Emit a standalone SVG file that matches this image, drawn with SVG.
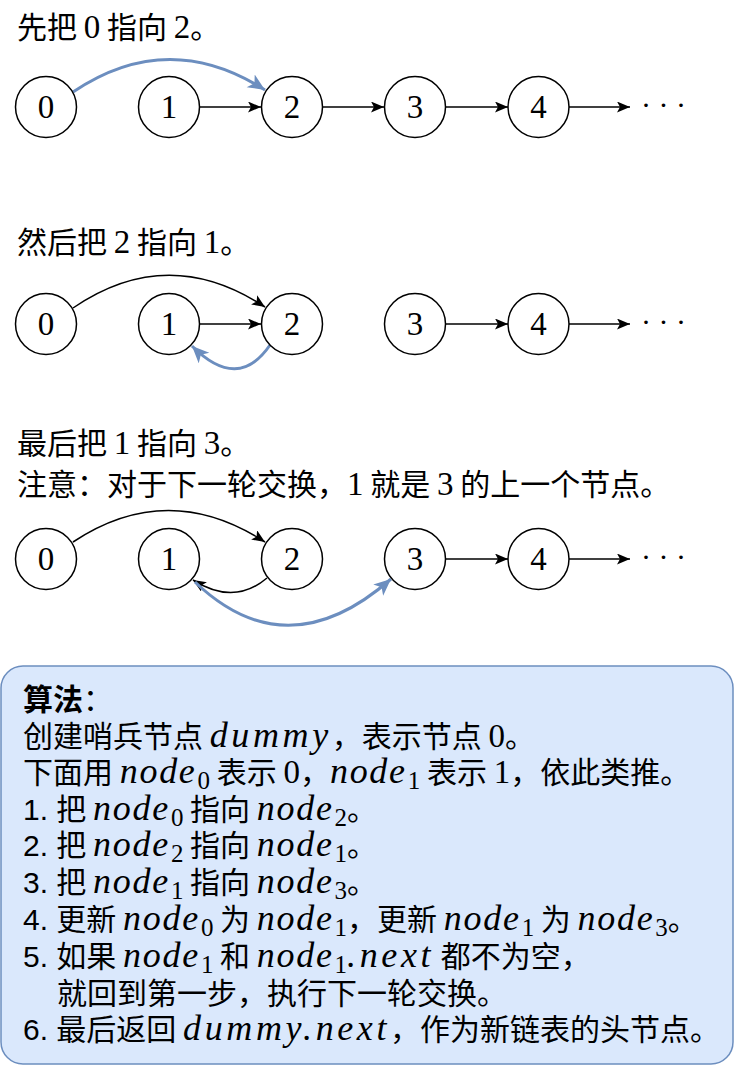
<svg xmlns="http://www.w3.org/2000/svg" width="741" height="1067" viewBox="0 0 741 1067">
<style>
text{font-family:"Noto Sans CJK SC","Noto Sans",sans-serif;font-size:30px;fill:#000}
.d{font-family:"Liberation Serif",serif;font-size:33px}
.m{font-family:"Liberation Serif",serif;font-size:36px;font-style:italic;letter-spacing:1.7px}
.w{letter-spacing:3.6px}
.sub{font-family:"Liberation Serif",serif;font-size:25px}
.s{font-family:"Liberation Sans",sans-serif}
.lbl{font-family:"Liberation Serif",serif;font-size:33px;text-anchor:middle}
.dots{font-family:"Liberation Serif",serif;font-size:30px;letter-spacing:7.5px}
.node circle{fill:#fff;stroke:#000;stroke-width:1.5}
.e{fill:none;stroke:#000;stroke-width:1.5}
.eb{fill:none;stroke:#6c8ebf;stroke-width:3}
</style>
<defs>
<marker id="ak" markerUnits="userSpaceOnUse" markerWidth="14" markerHeight="12" refX="13" refY="5.5" orient="auto"><path d="M0,0 L13,5.5 L0,11 L3,5.5 Z" fill="#000"/></marker>
<marker id="ab" markerUnits="userSpaceOnUse" markerWidth="18" markerHeight="16" refX="17" refY="7.5" orient="auto"><path d="M0,0 L17,7.5 L0,15 L4.5,7.5 Z" fill="#6c8ebf"/></marker>
</defs>
<rect x="0" y="0" width="741" height="1067" fill="#fff"/>

<g id="titles">
<text x="17" y="38">先把 <tspan class="d">0</tspan> 指向 <tspan class="d">2</tspan>。</text>
<text x="17" y="253">然后把 <tspan class="d">2</tspan> 指向 <tspan class="d">1</tspan>。</text>
<text x="17" y="454">最后把 <tspan class="d">1</tspan> 指向 <tspan class="d">3</tspan>。</text>
<text x="17" y="495">注意：对于下一轮交换，<tspan class="d">1</tspan> 就是 <tspan class="d">3</tspan> 的上一个节点。</text>
</g>

<g id="connectors">
<path class="eb" d="M73 92 Q168 28 265 90" marker-end="url(#ab)"/>
<path class="e" d="M199.5 107 H261" marker-end="url(#ak)"/>
<path class="e" d="M322.5 107 H384" marker-end="url(#ak)"/>
<path class="e" d="M445.5 107 H508" marker-end="url(#ak)"/>
<path class="e" d="M569 107 H630" marker-end="url(#ak)"/>

<path class="e" d="M73 308 Q168 243 265 307" marker-end="url(#ak)"/>
<path class="e" d="M199.5 324 H261" marker-end="url(#ak)"/>
<path class="eb" d="M270 345 Q238 392 192 346" marker-end="url(#ab)"/>
<path class="e" d="M445.5 324 H508" marker-end="url(#ak)"/>
<path class="e" d="M569 324 H630" marker-end="url(#ak)"/>

<path class="e" d="M73 542 Q168 479 265 542" marker-end="url(#ak)"/>
<path class="e" d="M267 578 Q234 606 193 580" marker-end="url(#ak)"/>
<path class="eb" d="M195 582 Q287 670 391 579" marker-end="url(#ab)"/>
<path class="e" d="M445.5 559 H508" marker-end="url(#ak)"/>
<path class="e" d="M569 559 H630" marker-end="url(#ak)"/>
</g>

<g id="row1">
<g id="r1n0" class="node"><circle cx="46" cy="107" r="30.5"/><text class="lbl" x="46" y="118">0</text></g>
<g id="r1n1" class="node"><circle cx="169" cy="107" r="30.5"/><text class="lbl" x="169" y="118">1</text></g>
<g id="r1n2" class="node"><circle cx="292" cy="107" r="30.5"/><text class="lbl" x="292" y="118">2</text></g>
<g id="r1n3" class="node"><circle cx="415" cy="107" r="30.5"/><text class="lbl" x="415" y="118">3</text></g>
<g id="r1n4" class="node"><circle cx="538.5" cy="107" r="30.5"/><text class="lbl" x="538.5" y="118">4</text></g>
<g id="r1dots"><text class="dots" x="641" y="115">···</text></g>
</g>

<g id="row2">
<g id="r2n0" class="node"><circle cx="46" cy="324" r="30.5"/><text class="lbl" x="46" y="335">0</text></g>
<g id="r2n1" class="node"><circle cx="169" cy="324" r="30.5"/><text class="lbl" x="169" y="335">1</text></g>
<g id="r2n2" class="node"><circle cx="292" cy="324" r="30.5"/><text class="lbl" x="292" y="335">2</text></g>
<g id="r2n3" class="node"><circle cx="415" cy="324" r="30.5"/><text class="lbl" x="415" y="335">3</text></g>
<g id="r2n4" class="node"><circle cx="538.5" cy="324" r="30.5"/><text class="lbl" x="538.5" y="335">4</text></g>
<g id="r2dots"><text class="dots" x="641" y="332">···</text></g>
</g>

<g id="row3">
<g id="r3n0" class="node"><circle cx="46" cy="559" r="30.5"/><text class="lbl" x="46" y="570">0</text></g>
<g id="r3n1" class="node"><circle cx="169" cy="559" r="30.5"/><text class="lbl" x="169" y="570">1</text></g>
<g id="r3n2" class="node"><circle cx="292" cy="559" r="30.5"/><text class="lbl" x="292" y="570">2</text></g>
<g id="r3n3" class="node"><circle cx="415" cy="559" r="30.5"/><text class="lbl" x="415" y="570">3</text></g>
<g id="r3n4" class="node"><circle cx="538.5" cy="559" r="30.5"/><text class="lbl" x="538.5" y="570">4</text></g>
<g id="r3dots"><text class="dots" x="641" y="567">···</text></g>
</g>

<g id="algorithm">
<rect x="1" y="666" width="732" height="398" rx="22" ry="22" fill="#dae8fc" stroke="#6c8ebf" stroke-width="1.5"/>
<text x="23" y="710"><tspan font-weight="bold">算法</tspan>：</text>
<text x="23" y="747">创建哨兵节点 <tspan class="m w">dummy</tspan>，表示节点 <tspan class="d">0</tspan>。</text>
<text x="23" y="783">下面用 <tspan class="m">node</tspan><tspan class="sub" dx="1" dy="6">0</tspan><tspan dy="-6"> 表示 </tspan><tspan class="d">0</tspan>，<tspan class="m">node</tspan><tspan class="sub" dx="1" dy="6">1</tspan><tspan dy="-6"> 表示 </tspan><tspan class="d">1</tspan>，依此类推。</text>
<text x="23" y="820"><tspan class="s">1. </tspan>把 <tspan class="m">node</tspan><tspan class="sub" dx="1" dy="6">0</tspan><tspan dy="-6"> 指向 </tspan><tspan class="m">node</tspan><tspan class="sub" dx="1" dy="6">2</tspan><tspan dy="-6">。</tspan></text>
<text x="23" y="856"><tspan class="s">2. </tspan>把 <tspan class="m">node</tspan><tspan class="sub" dx="1" dy="6">2</tspan><tspan dy="-6"> 指向 </tspan><tspan class="m">node</tspan><tspan class="sub" dx="1" dy="6">1</tspan><tspan dy="-6">。</tspan></text>
<text x="23" y="893"><tspan class="s">3. </tspan>把 <tspan class="m">node</tspan><tspan class="sub" dx="1" dy="6">1</tspan><tspan dy="-6"> 指向 </tspan><tspan class="m">node</tspan><tspan class="sub" dx="1" dy="6">3</tspan><tspan dy="-6">。</tspan></text>
<text x="23" y="930"><tspan class="s">4. </tspan>更新 <tspan class="m">node</tspan><tspan class="sub" dx="1" dy="6">0</tspan><tspan dy="-6"> 为 </tspan><tspan class="m">node</tspan><tspan class="sub" dx="1" dy="6">1</tspan><tspan dy="-6">，更新 </tspan><tspan class="m">node</tspan><tspan class="sub" dx="1" dy="6">1</tspan><tspan dy="-6"> 为 </tspan><tspan class="m">node</tspan><tspan class="sub" dx="1" dy="6">3</tspan><tspan dy="-6">。</tspan></text>
<text x="23" y="967"><tspan class="s">5. </tspan>如果 <tspan class="m">node</tspan><tspan class="sub" dx="1" dy="6">1</tspan><tspan dy="-6"> 和 </tspan><tspan class="m">node</tspan><tspan class="sub" dx="1" dy="6">1</tspan><tspan class="m w" dy="-6">.next</tspan> 都不为空，</text>
<text x="57" y="1004">就回到第一步，执行下一轮交换。</text>
<text x="23" y="1040"><tspan class="s">6. </tspan>最后返回 <tspan class="m w">dummy.next</tspan>，作为新链表的头节点。</text>
</g>
</svg>
